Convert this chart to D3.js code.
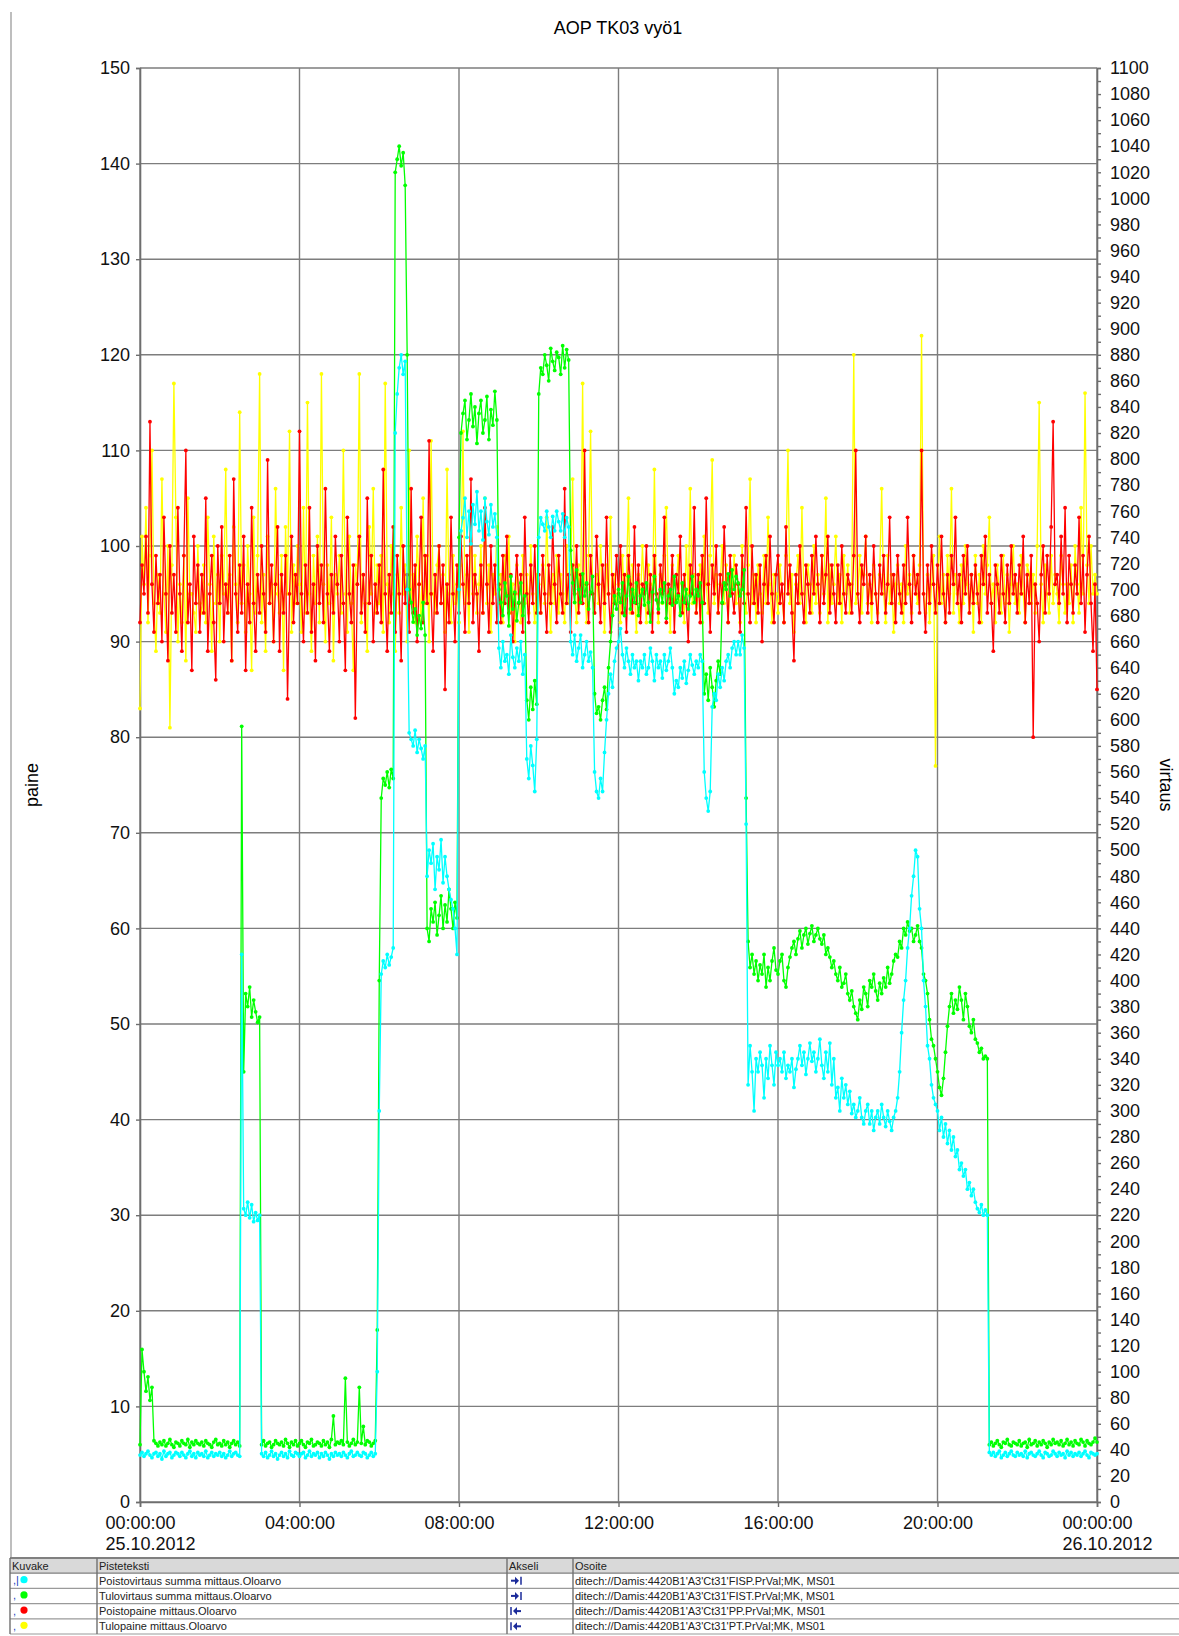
<!DOCTYPE html>
<html>
<head>
<meta charset="utf-8">
<script src="https://cdn.jsdelivr.net/npm/d3@7"></script>
<style>
  body { margin: 0; background: #fff; }
  svg { font-family: "Liberation Sans", Arial, sans-serif; }
</style>
</head>
<body>
<svg id="chart" width="1179" height="1636"></svg>
<script>
// Start of the sample series and the sampling step (minutes)
var startTime = new Date(2012, 9, 25, 0, 0, 0);
var stepMinutes = 3;

// Poistovirtaus summa (right axis, virtaus) - one row = 30 minutes
var cyanFlow = [
  36, 38, 35, 37, 39, 36, 34, 37, 38, 35,
  37, 33, 39, 35, 37, 38, 34, 36, 38, 37,
  35, 38, 36, 34, 37, 39, 35, 37, 34, 38,
  36, 37, 35, 39, 34, 36, 38, 35, 37, 36,
  38, 35, 37, 34, 36, 39, 35, 37, 38, 36,
  35, 420, 225, 220, 230, 218, 228, 215, 222, 216,
  220, 37, 35, 38, 34, 36, 39, 35, 37, 33,
  36, 38, 35, 37, 34, 39, 36, 35, 38, 37,
  35, 37, 38, 34, 36, 39, 35, 37, 36, 38,
  34, 37, 35, 38, 36, 33, 37, 35, 38, 36,
  37, 35, 38, 36, 34, 37, 39, 35, 36, 38,
  36, 35, 38, 37, 34, 36, 38, 35, 37, 100,
  300, 405, 415, 410, 420, 412, 418, 425, 820, 850,
  870, 880, 865, 875, 700, 590, 585, 580, 592, 575,
  585, 578, 570, 580, 480, 500, 490, 505, 470, 495,
  485, 508, 475, 495, 480, 470, 462, 455, 440, 420,
  700, 745, 755, 770, 740, 760, 735, 765, 750, 775,
  745, 760, 738, 770, 752, 742, 765, 748, 758, 740,
  655, 640, 660, 645, 650, 635, 665, 648, 640, 655,
  645, 660, 635, 650, 570, 555, 580, 565, 545, 585,
  740, 755, 750, 745, 760, 748, 740, 756, 745, 760,
  752, 745, 758, 740, 755, 748, 660, 650, 665, 645,
  655, 665, 640, 650, 660, 645, 652, 640, 560, 545,
  540, 555, 545, 575, 600, 620, 635, 625, 645, 655,
  660, 670, 650, 640, 655, 645, 635, 650, 640, 645,
  630, 645, 640, 650, 635, 640, 655, 645, 630, 650,
  640, 645, 632, 650, 638, 645, 655, 640, 620, 630,
  625, 640, 632, 645, 628, 638, 650, 642, 635, 645,
  640, 650, 645, 560, 540, 530, 545, 610, 620, 615,
  635, 625, 640, 630, 645, 650, 640, 655, 660, 650,
  660, 650, 665, 655, 520, 320, 350, 330, 300, 340,
  330, 345, 335, 310, 340, 325, 350, 335, 320, 345,
  335, 340, 330, 345, 325, 335, 330, 340, 318, 332,
  340, 350, 335, 345, 328, 340, 352, 338, 345, 330,
  340, 355, 335, 325, 345, 330, 352, 320, 340, 310,
  318, 300, 325, 310, 320, 305, 315, 298, 305, 295,
  300, 310, 295, 290, 300, 305, 290, 300, 285, 295,
  300, 290, 305, 295, 288, 300, 292, 285, 295, 300,
  310, 330, 360, 385, 400, 425, 440, 465, 480, 500,
  495, 455, 440, 400, 380, 350, 340, 320, 310, 305,
  300, 285, 295, 280, 290, 275, 285, 270, 280, 265,
  270, 255, 260, 250, 255, 240, 245, 235, 240, 230,
  225, 222, 228, 220, 224, 220, 38, 36, 38, 35,
  37, 39, 34, 36, 38, 35, 37, 39, 36, 35,
  38, 36, 37, 35, 39, 34, 37, 38, 36, 35,
  37, 39, 36, 34, 38, 37, 35, 36, 39, 37,
  35, 38, 36, 37, 34, 39, 36, 38, 35, 37,
  36, 38, 35, 37, 39, 36, 34, 38, 37, 36,
  37
];

// Tulovirtaus summa (right axis, virtaus)
var greenFlow = [
  44, 117, 100, 85, 96, 78, 88, 47, 45, 43,
  46, 44, 47, 43, 45, 48, 44, 42, 46, 45,
  43, 47, 45, 44, 48, 42, 46, 44, 47, 45,
  44, 46, 43, 47, 45, 44, 42, 46, 48, 44,
  45, 43, 47, 44, 46, 42, 45, 47, 44, 46,
  43, 595, 330, 390, 380, 395, 372, 385, 376, 368,
  372, 44, 47, 43, 45, 46, 42, 44, 47, 45,
  44, 46, 43, 48, 45, 42, 46, 44, 47, 43,
  45, 47, 44, 42, 46, 45, 48, 43, 44, 46,
  45, 43, 47, 44, 46, 42, 48, 66, 44, 46,
  45, 47, 44, 95, 46, 43, 45, 48, 44, 46,
  88, 45, 58, 44, 47, 46, 43, 45, 47, 132,
  400, 540, 555, 550, 560, 548, 562, 555, 1020, 1030,
  1040, 1025, 1035, 1010, 880, 700, 690, 675, 685, 665,
  680, 670, 690, 665, 440, 430, 455, 445, 460, 435,
  450, 465, 440, 458, 445, 470, 455, 440, 460, 448,
  740, 820, 835, 845, 815, 830, 850, 825, 840, 812,
  835, 845, 820, 830, 848, 815, 838, 826, 852, 830,
  700, 690, 680, 705, 695, 672, 710, 685, 698, 676,
  690, 705, 680, 695, 615, 600, 625, 608, 630, 612,
  850, 870, 865, 880, 872, 860, 885, 875, 868, 882,
  878, 865, 887, 870, 884, 876, 730, 705, 690, 715,
  700, 690, 712, 695, 705, 685, 698, 710, 620, 605,
  610, 600, 615, 625, 608, 640, 660, 680, 695, 685,
  700, 690, 705, 680, 695, 710, 685, 700, 690, 705,
  680, 695, 700, 688, 705, 690, 675, 698, 710, 692,
  685, 700, 690, 705, 678, 695, 700, 688, 710, 690,
  695, 680, 705, 690, 700, 685, 695, 710, 690, 700,
  695, 705, 690, 620, 635, 615, 640, 625, 610, 630,
  645, 635, 690, 705, 700, 712, 695, 715, 700, 710,
  705, 695, 700, 715, 540, 430, 410, 420, 405, 415,
  400, 412, 405, 420, 395, 410, 400, 415, 425, 408,
  405, 415, 420, 400, 395, 410, 418, 425, 430, 420,
  432, 438, 425, 435, 440, 428, 436, 442, 430, 435,
  440, 432, 428, 435, 420, 425, 418, 410, 415, 405,
  400, 410, 395, 398, 405, 390, 385, 392, 380, 375,
  370, 385, 378, 395, 390, 380, 400, 395, 405, 392,
  385, 398, 390, 402, 395, 410, 398, 405, 415, 420,
  418, 430, 425, 440, 435, 445, 438, 440, 430, 435,
  442, 430, 425, 405, 400, 390, 370, 355, 350, 340,
  330, 318, 312, 325, 345, 365, 380, 390, 375, 385,
  378, 395, 385, 370, 390, 380, 365, 360, 370, 355,
  352, 345, 348, 340, 342, 340, 44, 46, 43, 45,
  47, 44, 42, 46, 45, 48, 44, 43, 46, 45,
  44, 47, 43, 45, 46, 42, 48, 44, 45, 47,
  43, 46, 44, 47, 45, 42, 46, 44, 48, 45,
  46, 44, 47, 43, 45, 48, 44, 46, 43, 47,
  45, 44, 48, 46, 43, 47, 45, 44, 46, 49,
  46
];

// Poistopaine (left axis, paine)
var redPressure = [
  92, 98, 95, 101, 93, 113, 96, 91, 99, 94,
  97, 90, 103, 95, 88, 100, 93, 97, 91, 104,
  95, 89, 99, 110, 92, 96, 87, 101, 94, 98,
  91, 97, 93, 105, 89, 95, 99, 92, 86, 100,
  94, 102, 90, 96, 93, 99, 88, 107, 95, 91,
  98, 93, 101, 87, 96, 92, 104, 94, 89, 97,
  93, 100, 95, 91, 109, 94, 98, 90, 96, 102,
  89, 97, 93, 99, 84, 95, 101, 92, 97, 94,
  112, 95, 90, 98, 93, 104, 91, 96, 88, 100,
  94, 98, 92, 106, 95, 89, 97, 93, 101, 96,
  90, 99, 94, 87, 103, 95, 92, 98, 82, 96,
  101, 93, 97, 91, 105, 94, 99, 90, 96, 93,
  98, 92, 108, 95, 89, 97, 93, 102, 91, 99,
  95, 88, 100, 94, 97, 91, 106, 93, 98, 90,
  96, 103, 92, 99, 94, 111, 95, 89, 97, 93,
  100, 94, 98, 85, 96, 92, 103, 95, 90, 98,
  93, 101, 96, 91, 99, 94, 107, 92, 97, 95,
  89, 98, 93, 104, 96, 91, 100, 94, 98, 92,
  96, 92, 99, 94, 101, 93, 97, 90, 95, 99,
  94, 97, 91, 103, 95, 92, 98, 94, 100, 93,
  97, 93, 99, 95, 91, 98, 94, 102, 96, 92,
  99, 95, 93, 106, 94, 97, 91, 98, 95, 100,
  93, 97, 94, 110, 96, 92, 99, 95, 93, 101,
  96, 92, 98, 94, 103, 95, 91, 97, 94, 99,
  95, 100, 93, 97, 91, 99, 96, 93, 102, 94,
  98, 92, 96, 95, 100, 93, 97, 91, 99, 95,
  93, 98, 95, 103, 92, 96, 94, 99, 91, 97,
  95, 101, 93, 97, 94, 90, 98, 95, 104, 93,
  97, 92, 99, 94, 105, 96, 91, 98, 95, 100,
  93, 97, 94, 102, 96, 92, 99, 95, 93, 98,
  96, 91, 99, 94, 104, 95, 92, 100, 94, 97,
  93, 98, 90, 96, 99, 94, 101, 95, 92, 97,
  99, 94, 96, 92, 102, 95, 98, 93, 88, 97,
  94, 100, 95, 92, 98, 96, 93, 99, 95, 101,
  96, 92, 99, 94, 97, 101, 93, 98, 95, 92,
  98, 94, 100, 95, 93, 97, 96, 93, 99, 110,
  95, 92, 98, 96, 101, 93, 97, 94, 100, 95,
  92, 98, 95, 99, 93, 96, 103, 94, 97, 92,
  99, 95, 93, 98, 94, 103, 96, 92, 99, 95,
  97, 93, 110, 95, 91, 98, 94, 100, 96, 93,
  98, 94, 101, 95, 92, 97, 93, 99, 96, 103,
  94, 97, 92, 99, 95, 100, 93, 97, 94, 98,
  95, 92, 99, 96, 101, 93, 97, 94, 89, 98,
  96, 93, 99, 95, 92, 98, 94, 100, 95, 97,
  93, 98, 95, 101, 92, 97, 94, 99, 80, 96,
  94, 90, 97, 100, 93, 99, 95, 102, 113, 96,
  97, 94, 101, 95, 104, 92, 99, 96, 93, 98,
  95, 103, 94, 99, 91, 97, 101, 94, 89, 96,
  85
];

// Tulopaine (left axis, paine)
var yellowPressure = [
  83, 101, 96, 104, 92, 99, 110, 94, 89, 97,
  93, 107, 95, 91, 100, 81, 98, 117, 103, 90,
  96, 92, 99, 88, 105, 95, 95, 93, 91, 100,
  94, 93, 98, 92, 103, 96, 89, 101, 94, 97,
  90, 99, 95, 108, 93, 97, 88, 102, 96, 92,
  114, 94, 98, 91, 100, 95, 87, 103, 93, 99,
  118, 92, 97, 89, 101, 94, 96, 90, 106, 95,
  93, 99, 87, 102, 95, 112, 91, 98, 94, 100,
  96, 91, 104, 93, 115, 95, 89, 99, 94, 101,
  92, 118, 96, 90, 98, 94, 103, 88, 97, 95,
  99, 93, 110, 95, 91, 101, 94, 87, 98, 96,
  118, 92, 97, 94, 89, 102, 95, 106, 93, 98,
  94, 99, 91, 117, 96, 92, 100, 95, 89, 97,
  93, 104, 95, 98, 90, 110, 94, 97, 92, 101,
  96, 92, 105, 94, 99, 90, 111, 95, 93, 98,
  100, 94, 97, 91, 108, 95, 92, 99, 94, 96,
  92, 98, 112, 94, 97, 91, 103, 95, 99, 93,
  96, 100, 93, 105, 94, 98, 91, 97, 95, 102,
  94, 97, 92, 99, 95, 101, 93, 96, 90, 98,
  95, 92, 99, 94, 97, 93, 100, 95, 92, 97,
  96, 93, 98, 94, 103, 95, 91, 97, 94, 99,
  93, 97, 95, 92, 100, 94, 98, 107, 95, 92,
  98, 94, 117, 96, 92, 99, 112, 95, 93, 97,
  94, 100, 96, 91, 98, 95, 103, 93, 97, 94,
  96, 92, 99, 94, 97, 105, 93, 98, 95, 91,
  97, 94, 100, 95, 92, 98, 96, 93, 108, 95,
  92, 97, 94, 99, 104, 95, 91, 98, 94, 96,
  99, 93, 96, 92, 100, 95, 106, 94, 97, 93,
  95, 98, 92, 101, 96, 93, 99, 109, 94, 97,
  93, 96, 100, 94, 98, 92, 97, 95, 99, 94,
  96, 92, 100, 95, 93, 98, 107, 94, 97, 92,
  98, 95, 93, 99, 94, 103, 96, 92, 97, 95,
  93, 98, 95, 92, 99, 110, 94, 97, 91, 96,
  99, 94, 104, 95, 92, 98, 96, 93, 100, 94,
  97, 93, 99, 95, 105, 92, 98, 94, 96, 101,
  94, 97, 92, 99, 95, 98, 93, 96, 120, 94,
  95, 99, 93, 97, 101, 94, 96, 92, 98, 95,
  93, 97, 106, 95, 92, 99, 94, 97, 91, 96,
  98, 94, 96, 92, 100, 95, 97, 93, 99, 96,
  94, 98, 122, 95, 93, 97, 92, 96, 99, 77,
  96, 101, 94, 97, 92, 99, 95, 106, 93, 97,
  95, 92, 98, 94, 100, 96, 93, 97, 91, 99,
  94, 97, 92, 100, 95, 98, 103, 94, 96, 92,
  98, 95, 93, 99, 94, 97, 91, 96, 100, 94,
  96, 93, 99, 95, 92, 98, 97, 94, 97, 93,
  100, 115, 96, 92, 98, 95, 93, 99, 94, 97,
  95, 92, 99, 96, 93, 96, 94, 98, 92, 100,
  96, 93, 104, 95, 116, 98, 94, 100, 95, 97,
  95
];

// Legend table rows
var seriesNames = ["Poistovirtaus summa mittaus.Oloarvo", "Tulovirtaus summa mittaus.Oloarvo", "Poistopaine mittaus.Oloarvo", "Tulopaine mittaus.Oloarvo"];
var seriesAddress = ["ditech://Damis:4420B1'A3'Ct31'FISP.PrVal;MK, MS01", "ditech://Damis:4420B1'A3'Ct31'FIST.PrVal;MK, MS01", "ditech://Damis:4420B1'A3'Ct31'PP.PrVal;MK, MS01", "ditech://Damis:4420B1'A3'Ct31'PT.PrVal;MK, MS01"];
var seriesAxis = ["right", "right", "left", "left"];
var seriesColors = ["#00ffff", "#00ff00", "#ff0000", "#ffff00"];
var tableHeaders = ["Kuvake", "Pisteteksti", "Akseli", "Osoite"];

var svg = d3.select("#chart");
var margin = {left: 140, right: 1097, top: 68, bottom: 1502};

function timeAt(i) { return new Date(startTime.getTime() + i * stepMinutes * 60000); }

var x = d3.scaleTime()
  .domain([startTime, new Date(2012, 9, 26, 0, 0, 0)])
  .range([margin.left, margin.right]);
var yLeft = d3.scaleLinear().domain([0, 150]).range([margin.bottom, margin.top]);
var yRight = d3.scaleLinear().domain([0, 1100]).range([margin.bottom, margin.top]);

// frame line on the left side of the window
svg.append("line").attr("x1", 11).attr("x2", 11).attr("y1", 12).attr("y2", 1558)
  .attr("stroke", "#a8a8a8").attr("stroke-width", 1.5);

// title
svg.append("text").attr("x", 618).attr("y", 34).attr("text-anchor", "middle")
  .style("font-size", "18px").text("AOP TK03 vyö1");

// grid
var hourTicks = d3.range(0, 25, 4).map(function(h) { return new Date(2012, 9, 25, h, 0, 0); });
svg.append("g").selectAll("line").data(d3.range(0, 151, 10)).enter().append("line")
  .attr("x1", margin.left).attr("x2", margin.right)
  .attr("y1", function(d) { return yLeft(d); }).attr("y2", function(d) { return yLeft(d); })
  .attr("stroke", "#7d7d7d").attr("stroke-width", 1.4);
svg.append("g").selectAll("line").data(hourTicks).enter().append("line")
  .attr("x1", function(d) { return x(d); }).attr("x2", function(d) { return x(d); })
  .attr("y1", margin.top).attr("y2", margin.bottom)
  .attr("stroke", "#7d7d7d").attr("stroke-width", 1.4);

// axes
var leftAxis = svg.append("g").attr("transform", "translate(" + margin.left + ",0)")
  .call(d3.axisLeft(yLeft).tickValues(d3.range(0, 151, 10)).tickSize(4).tickPadding(6));
var rightAxis = svg.append("g").attr("transform", "translate(" + margin.right + ",0)")
  .call(d3.axisRight(yRight).tickValues(d3.range(0, 1101, 10)).tickSize(4).tickPadding(9)
    .tickFormat(function(d) { return d % 20 === 0 ? d : ""; }));
var bottomAxis = svg.append("g").attr("transform", "translate(0," + margin.bottom + ")")
  .call(d3.axisBottom(x).tickValues(hourTicks).tickSize(5).tickFormat(""));

[leftAxis, rightAxis, bottomAxis].forEach(function(a) {
  a.select(".domain").attr("stroke", "#6e6e6e").attr("stroke-width", 1.6);
  a.selectAll(".tick line").attr("stroke", "#6e6e6e").attr("stroke-width", 1.4);
  a.selectAll("text").style("font-size", "18px").attr("fill", "#111");
});

// bottom tick labels, date under the first and last one
var timeFmt = d3.timeFormat("%H:%M:%S");
var dateFmt = d3.timeFormat("%d.%m.%Y");
bottomAxis.selectAll(".tick").each(function(d, i) {
  var edge = (i === 0 || i === hourTicks.length - 1);
  var t = d3.select(this).append("text").attr("y", 27)
    .attr("text-anchor", edge ? "start" : "middle")
    .style("font-size", "18px").attr("fill", "#111");
  t.append("tspan").attr("x", edge ? -35 : 0).text(timeFmt(d));
  if (edge) {
    t.append("tspan").attr("x", -35).attr("dy", 21).text(dateFmt(d));
  }
});

// axis titles
svg.append("text").attr("transform", "translate(38,785) rotate(-90)")
  .attr("text-anchor", "middle").style("font-size", "18px").text("paine");
svg.append("text").attr("transform", "translate(1160,785) rotate(90)")
  .attr("text-anchor", "middle").style("font-size", "18px").text("virtaus");

// series, drawn bottom to top
var seriesList = [
  {values: yellowPressure, y: yLeft, color: seriesColors[3]},
  {values: redPressure, y: yLeft, color: seriesColors[2]},
  {values: greenFlow, y: yRight, color: seriesColors[1]},
  {values: cyanFlow, y: yRight, color: seriesColors[0]}
];

var plot = svg.append("g");
seriesList.forEach(function(s) {
  var pts = s.values.map(function(v, i) { return [timeAt(i), v]; });
  var line = d3.line().x(function(d) { return x(d[0]); }).y(function(d) { return s.y(d[1]); });
  plot.append("path").datum(pts).attr("d", line)
    .attr("fill", "none").attr("stroke", s.color).attr("stroke-width", 1.3);
  plot.append("g").selectAll("circle").data(pts).enter().append("circle")
    .attr("cx", function(d) { return x(d[0]); })
    .attr("cy", function(d) { return s.y(d[1]); })
    .attr("r", 1.9).attr("fill", s.color);
});

// legend table
var tableTop = 1558, rowH = 15.2;
var colX = [10, 97, 507, 573, 1179];
var table = svg.append("g").style("font-size", "11px");
table.append("rect").attr("x", colX[0]).attr("y", tableTop).attr("width", colX[4] - colX[0]).attr("height", rowH)
  .attr("fill", "#d9d9d9");
tableHeaders.forEach(function(h, i) {
  table.append("text").attr("x", colX[i] + 2).attr("y", tableTop + 11.5).attr("fill", "#222").text(h);
});
d3.range(0, 6).forEach(function(r) {
  table.append("line").attr("x1", colX[0]).attr("x2", colX[4])
    .attr("y1", tableTop + r * rowH).attr("y2", tableTop + r * rowH)
    .attr("stroke", r < 2 ? "#808080" : "#9a9a9a").attr("stroke-width", r === 0 ? 2 : 1.2);
});
colX.slice(0, 4).forEach(function(cx) {
  table.append("line").attr("x1", cx).attr("x2", cx).attr("y1", tableTop).attr("y2", tableTop + 5 * rowH)
    .attr("stroke", "#707070").attr("stroke-width", 1.4);
});

seriesNames.forEach(function(name, i) {
  var ry = tableTop + (i + 1) * rowH;
  table.append("text").attr("x", 13).attr("y", ry + 11).attr("fill", "#2040c0").text(i === 0 ? ",|" : ",");
  table.append("circle").attr("cx", 24).attr("cy", ry + 6.5).attr("r", 3.6).attr("fill", seriesColors[i]);
  table.append("text").attr("x", colX[1] + 2).attr("y", ry + 11.5).attr("fill", "#222").text(name);
  table.append("text").attr("x", colX[3] + 2).attr("y", ry + 11.5).attr("fill", "#222").text(seriesAddress[i]);
  var ax = colX[2] + 4, ay = ry + 7.5;
  var arrow = table.append("g").attr("fill", "#1a2a9a").attr("stroke", "#1a2a9a");
  if (seriesAxis[i] === "right") {
    arrow.append("line").attr("x1", ax).attr("x2", ax + 5).attr("y1", ay).attr("y2", ay).attr("stroke-width", 2);
    arrow.append("path").attr("d", "M" + (ax + 4) + "," + (ay - 4) + "L" + (ax + 8) + "," + ay + "L" + (ax + 4) + "," + (ay + 4) + "Z").attr("stroke", "none");
    arrow.append("line").attr("x1", ax + 10).attr("x2", ax + 10).attr("y1", ay - 4).attr("y2", ay + 4).attr("stroke-width", 1.5);
  } else {
    arrow.append("line").attr("x1", ax).attr("x2", ax).attr("y1", ay - 4).attr("y2", ay + 4).attr("stroke-width", 1.5);
    arrow.append("path").attr("d", "M" + (ax + 6) + "," + (ay - 4) + "L" + (ax + 2) + "," + ay + "L" + (ax + 6) + "," + (ay + 4) + "Z").attr("stroke", "none");
    arrow.append("line").attr("x1", ax + 5).attr("x2", ax + 10).attr("y1", ay).attr("y2", ay).attr("stroke-width", 2);
  }
});
</script>
</body>
</html>
